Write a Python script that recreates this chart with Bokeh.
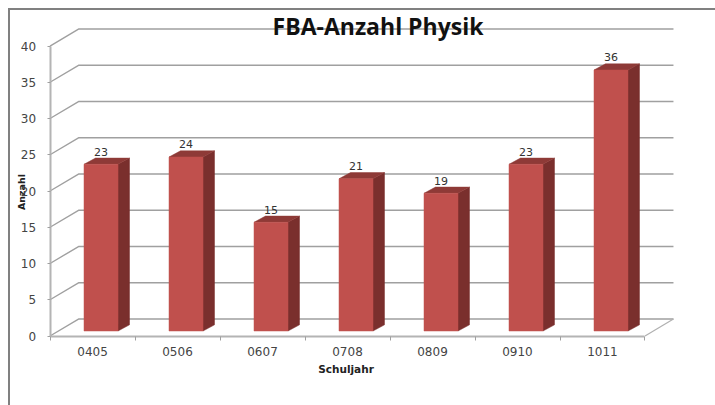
import math
from bokeh.plotting import figure
from bokeh.models import FixedTicker, Range1d, ColumnDataSource
from bokeh.core.properties import value
from bokeh.embed import file_html
from bokeh.resources import INLINE

title_text = "FBA-Anzahl Physik"
x_title = "Schuljahr"
y_title = "Anzahl"
categories = ["0405", "0506", "0607", "0708", "0809", "0910", "1011"]
values = [23, 24, 15, 21, 19, 23, 36]
y_ticks = [0, 5, 10, 15, 20, 25, 30, 35, 40]

# geometry of the fake 3D view, in data units
WALL_DX, WALL_DY = 0.335, 2.34
BAR_W, BAR_SHIFT, BAR_BASE = 0.40, 0.10, 0.69
DEPTH_X, DEPTH_Y = 0.135, 0.85
n = len(categories)
x_end = n + WALL_DX

p = figure(width=707, height=397, output_backend="svg", toolbar_location=None,
           x_range=Range1d(-0.465, 7.853), y_range=Range1d(-9.86, 44.9),
           min_border_left=0, min_border_right=0, min_border_top=0, min_border_bottom=0,
           styles={"margin-left": "8px", "margin-top": "8px",
                   "border-top": "2px solid #808080", "border-left": "2px solid #808080",
                   "box-sizing": "border-box"})
p.grid.visible = False
p.outline_line_color = None

# walls
gx, gy = [], []
for v in y_ticks:
    gx.append([0, WALL_DX, x_end])
    gy.append([v, v + WALL_DY, v + WALL_DY])
p.multi_line(gx, gy, line_color="#a0a0a0", line_width=1.4)
p.line([n, x_end, ], [0, WALL_DY], line_color="#b0b0b0", line_width=1.2)

# bars
lefts = [i + 0.5 + BAR_SHIFT - BAR_W / 2 for i in range(n)]
rights = [l + BAR_W for l in lefts]
bottoms = [BAR_BASE] * n
tops = [v + BAR_BASE for v in values]
p.patches([[r, r + DEPTH_X, r + DEPTH_X, r] for r in rights],
          [[b, b + DEPTH_Y, t + DEPTH_Y, t] for b, t in zip(bottoms, tops)],
          fill_color="#7a2f2d", line_color="#7a2f2d", line_width=0.5)
p.patches([[l, l + DEPTH_X, r + DEPTH_X, r] for l, r in zip(lefts, rights)],
          [[t, t + DEPTH_Y, t + DEPTH_Y, t] for t in tops],
          fill_color="#8e3a37", line_color="#8e3a37", line_width=0.5)
p.quad(left=lefts, right=rights, bottom=bottoms, top=tops,
       fill_color="#c0504d", line_color="#c0504d", line_width=0.5)

# data labels
src = ColumnDataSource(dict(x=[(l + r) / 2 for l, r in zip(lefts, rights)],
                            y=[t + 1.75 for t in tops],
                            t=[str(v) for v in values]))
p.text("x", "y", text="t", source=src, text_align="center", text_baseline="middle",
       text_font=value("DejaVu Sans"), text_font_size="11px", text_color="#333333")

# titles
p.text([3.859], [42.76], text=[title_text], text_align="center", text_baseline="middle",
       text_font=value("Open Sans"), text_font_style="bold", text_font_size="23px", text_color="#111111")
p.text([3.482], [-4.6], text=[x_title], text_align="center", text_baseline="middle",
       text_font=value("DejaVu Sans"), text_font_style="bold", text_font_size="10.5px", text_color="#222222")
p.text([-0.3412], [19.86], text=[y_title], angle=math.pi / 2, text_align="center", text_baseline="middle",
       text_font=value("DejaVu Sans"), text_font_style="bold", text_font_size="9.5px", text_color="#222222")

# axes
xa = p.xaxis[0]
centers = [i + 0.5 for i in range(n)]
xa.fixed_location = 0
xa.ticker = FixedTicker(ticks=centers, minor_ticks=list(range(n + 1)))
xa.major_label_overrides = {c: l for c, l in zip(centers, categories)}
xa.major_tick_line_color = None
xa.minor_tick_line_color = "#a0a0a0"
xa.minor_tick_out = 4
xa.minor_tick_in = 0
xa.bounds = (0, n)
xa.axis_line_color = "#b4b4b4"
xa.axis_line_width = 2
xa.major_label_standoff = 5
xa.major_label_text_font = "DejaVu Sans"
xa.major_label_text_font_size = "12px"
xa.major_label_text_color = "#444444"

ya = p.yaxis[0]
ya.fixed_location = 0
ya.ticker = FixedTicker(ticks=y_ticks)
ya.bounds = (0, 40)
ya.minor_tick_line_color = None
ya.major_tick_line_color = "#a0a0a0"
ya.major_tick_out = 3
ya.major_tick_in = 0
ya.axis_line_color = "#b4b4b4"
ya.axis_line_width = 2
ya.major_label_standoff = 11
ya.major_label_text_font = "DejaVu Sans"
ya.major_label_text_font_size = "12px"
ya.major_label_text_color = "#444444"

open("out.html", "w").write(file_html(p, INLINE))
